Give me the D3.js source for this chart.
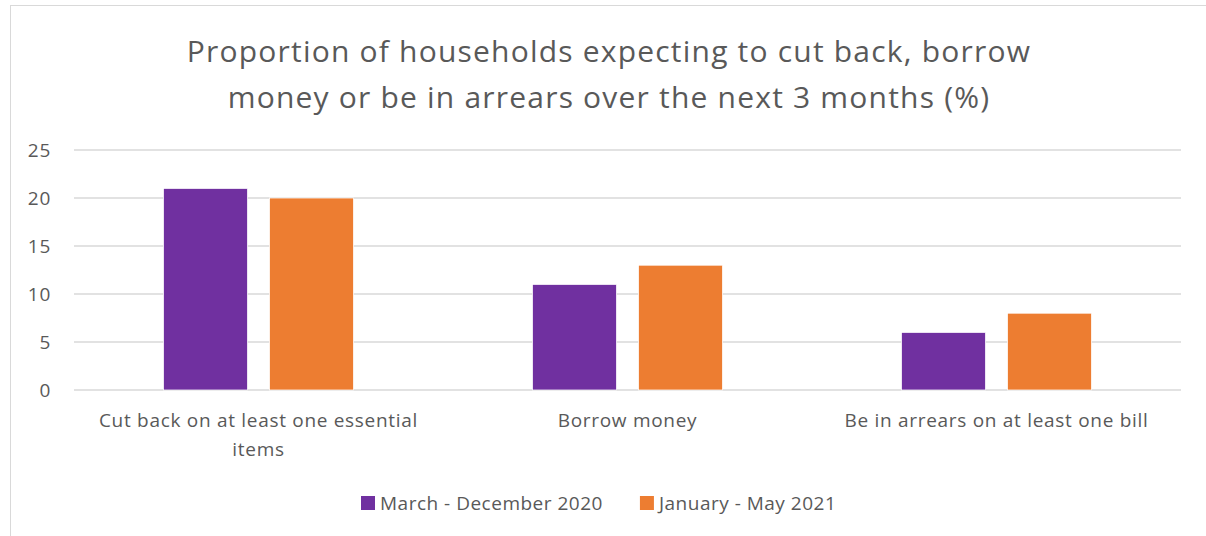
<!DOCTYPE html>
<html>
<head>
<meta charset="utf-8">
<script src="https://cdn.jsdelivr.net/npm/d3@7"></script>
<style>
  html, body { margin: 0; padding: 0; background: #fff; }
  svg { display: block; }
  text { font-family: "Open Sans", "Noto Sans", sans-serif; fill: #595959; }
</style>
</head>
<body>
<svg id="chart" width="1206" height="536"></svg>
<script>
// Chart data
const categories = [
  "Cut back on at least one essential items",
  "Borrow money",
  "Be in arrears on at least one bill"
];
const seriesNames = ["March - December 2020", "January - May 2021"];
const march2020 = [21, 11, 6];
const jan2021 = [20, 13, 8];
const yTicks = [0, 5, 10, 15, 20, 25];
const titleLines = [
  "Proportion of households expecting to cut back, borrow",
  "money or be in arrears over the next 3 months (%)"
];
const colors = ["#7030a0", "#ed7d31"];

const W = 1206, H = 536;
const margin = { left: 74, right: 25, top: 150, bottom: 146 };
const svg = d3.select("#chart");

// Outer frame
svg.append("rect")
  .attr("x", 10.5).attr("y", 5.5)
  .attr("width", W).attr("height", H)
  .attr("fill", "none").attr("stroke", "#d9d9d9").attr("stroke-width", 1);

// Title
svg.append("g").selectAll("text")
  .data(titleLines)
  .join("text")
  .attr("x", 609)
  .attr("y", (d, i) => 62 + i * 46)
  .attr("text-anchor", "middle")
  .attr("font-size", 30)
  .attr("letter-spacing", 1.2)
  .text(d => d);

const x0 = d3.scaleBand()
  .domain(categories)
  .range([margin.left, W - margin.right])
  .paddingInner(0).paddingOuter(0);

const y = d3.scaleLinear()
  .domain([0, 25])
  .range([H - margin.bottom, margin.top]);

// Horizontal gridlines
svg.append("g").selectAll("line")
  .data(yTicks)
  .join("line")
  .attr("x1", margin.left).attr("x2", W - margin.right)
  .attr("y1", d => y(d)).attr("y2", d => y(d))
  .attr("stroke", "#d9d9d9").attr("stroke-width", 1.5);

// Y axis labels
const yAxis = svg.append("g")
  .attr("transform", `translate(${margin.left - 23},0)`)
  .call(d3.axisLeft(y).tickValues(yTicks).tickSize(0).tickPadding(0));
yAxis.select(".domain").remove();
yAxis.selectAll("text")
  .attr("font-size", 19)
  .attr("font-family", "Open Sans")
  .attr("letter-spacing", 0.7)
  .attr("fill", "#595959");

// Bars, grouped per category
const barW = 84, gap = 22;
const x1 = d3.scaleBand()
  .domain([0, 1])
  .range([-(barW + gap / 2), barW + gap / 2])
  .paddingInner(gap / (barW + gap))
  .paddingOuter(0);

const rows = categories.map((c, i) => ({ cat: c, vals: [march2020[i], jan2021[i]] }));
const groups = svg.append("g").selectAll("g")
  .data(rows)
  .join("g")
  .attr("transform", d => `translate(${x0(d.cat) + x0.bandwidth() / 2},0)`);

groups.selectAll("rect")
  .data(d => d.vals.map((v, k) => ({ v, k })))
  .join("rect")
  .attr("x", d => x1(d.k))
  .attr("width", x1.bandwidth())
  .attr("y", d => y(d.v))
  .attr("height", d => y(0) - y(d.v))
  .attr("fill", d => colors[d.k])
  .attr("stroke", "#fff")
  .attr("stroke-width", 0.75);

// Category labels, wrapped to the band width
const xAxis = svg.append("g")
  .attr("transform", `translate(0,${y(0)})`)
  .call(d3.axisBottom(x0).tickSize(0).tickPadding(0));
xAxis.select(".domain").remove();
xAxis.selectAll("text").remove();
xAxis.selectAll(".tick").append("text")
  .attr("text-anchor", "middle")
  .attr("font-size", 19)
  .attr("letter-spacing", 0.7)
  .each(function (d) {
    const t = d3.select(this);
    const words = d.split(" ");
    const maxW = 345;
    let line = [], lines = [];
    const probe = t.append("tspan");
    words.forEach(w => {
      const trial = line.concat(w).join(" ");
      probe.text(trial);
      if (probe.node().getComputedTextLength() > maxW && line.length) {
        lines.push(line.join(" "));
        line = [w];
      } else {
        line.push(w);
      }
    });
    lines.push(line.join(" "));
    probe.remove();
    lines.forEach((l, i) => {
      t.append("tspan").attr("x", 0).attr("y", 37 + i * 29).text(l);
    });
  });

// Legend
const legend = svg.append("g").attr("transform", "translate(361,496)");
let lx = 0;
seriesNames.forEach((name, i) => {
  const g = legend.append("g").attr("transform", `translate(${lx},0)`);
  g.append("rect").attr("width", 14).attr("height", 14).attr("fill", colors[i]);
  const t = g.append("text").attr("x", 19).attr("y", 14)
    .attr("font-size", 19).attr("letter-spacing", 0.5).text(name);
  lx += 19 + t.node().getComputedTextLength() + 37;
});
</script>
</body>
</html>
